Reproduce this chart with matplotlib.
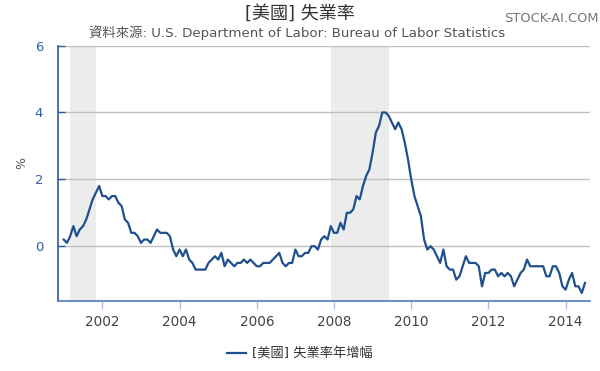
# -*- coding: utf-8 -*-
# I M P O R T ##########################################################################################################
import matplotlib
matplotlib.use('Agg')
import matplotlib.pyplot as plt


# D E C L A R A T I O N S ##############################################################################################
plt.rcParams['font.family'] = ['DejaVu Sans', 'Noto Sans CJK TC']

START_YEAR = 2001

# year-over-year change of the unemployment rate (percentage points), monthly from Jan 2001
yoy_2001 = [0.2, 0.1, 0.3, 0.6, 0.3, 0.5, 0.6, 0.8, 1.1, 1.4, 1.6, 1.8]
yoy_2002 = [1.5, 1.5, 1.4, 1.5, 1.5, 1.3, 1.2, 0.8, 0.7, 0.4, 0.4, 0.3]
yoy_2003 = [0.1, 0.2, 0.2, 0.1, 0.3, 0.5, 0.4, 0.4, 0.4, 0.3, -0.1, -0.3]
yoy_2004 = [-0.1, -0.3, -0.1, -0.4, -0.5, -0.7, -0.7, -0.7, -0.7, -0.5, -0.4, -0.3]
yoy_2005 = [-0.4, -0.2, -0.6, -0.4, -0.5, -0.6, -0.5, -0.5, -0.4, -0.5, -0.4, -0.5]
yoy_2006 = [-0.6, -0.6, -0.5, -0.5, -0.5, -0.4, -0.3, -0.2, -0.5, -0.6, -0.5, -0.5]
yoy_2007 = [-0.1, -0.3, -0.3, -0.2, -0.2, 0.0, 0.0, -0.1, 0.2, 0.3, 0.2, 0.6]
yoy_2008 = [0.4, 0.4, 0.7, 0.5, 1.0, 1.0, 1.1, 1.5, 1.4, 1.8, 2.1, 2.3]
yoy_2009 = [2.8, 3.4, 3.6, 4.0, 4.0, 3.9, 3.7, 3.5, 3.7, 3.5, 3.1, 2.6]
yoy_2010 = [2.0, 1.5, 1.2, 0.9, 0.2, -0.1, 0.0, -0.1, -0.3, -0.5, -0.1, -0.6]
yoy_2011 = [-0.7, -0.7, -1.0, -0.9, -0.6, -0.3, -0.5, -0.5, -0.5, -0.6, -1.2, -0.8]
yoy_2012 = [-0.8, -0.7, -0.7, -0.9, -0.8, -0.9, -0.8, -0.9, -1.2, -1.0, -0.8, -0.7]
yoy_2013 = [-0.4, -0.6, -0.6, -0.6, -0.6, -0.6, -0.9, -0.9, -0.6, -0.6, -0.8, -1.2]
yoy_2014 = [-1.3, -1.0, -0.8, -1.2, -1.2, -1.4, -1.1]

# recessions (decimal years)
recessions = [(2001 + 2/12, 2001 + 10/12), (2007 + 11/12, 2009 + 5/12)]

x_ticks = [2002, 2004, 2006, 2008, 2010, 2012, 2014]
y_ticks = [0, 2, 4, 6]

TITLE    = '[美國] 失業率'
SUBTITLE = '資料來源: U.S. Department of Labor: Bureau of Labor Statistics'
LEGEND   = '[美國] 失業率年增幅'
BRAND    = 'STOCK-AI.COM'

LINE_COLOR = '#1f4f8f'
AXIS_COLOR = '#2c5aa0'


#---------------------------------------------------------------------------------------------------------------------
# @brief Build the monthly series as decimal years.
#---------------------------------------------------------------------------------------------------------------------
def build_series():
  values = (yoy_2001 + yoy_2002 + yoy_2003 + yoy_2004 + yoy_2005 + yoy_2006 + yoy_2007 +
            yoy_2008 + yoy_2009 + yoy_2010 + yoy_2011 + yoy_2012 + yoy_2013 + yoy_2014)
  dates = [START_YEAR + i/12 for i in range(len(values))]
  return dates, values


#---------------------------------------------------------------------------------------------------------------------
# @brief Draw the chart.
#---------------------------------------------------------------------------------------------------------------------
def draw_chart(dates, values):
  fig = plt.figure(figsize=(6.0, 3.71), dpi=100)
  ax = fig.add_axes([0.0972, 0.1895, 0.8861, 0.6875])

  for (start, end) in recessions:
    ax.axvspan(start, end, color='#ececec', lw=0, zorder=0)

  for y in y_ticks:
    ax.axhline(y, color='#c0c0c0', lw=1.0, zorder=1)

  ax.plot(dates, values, color=LINE_COLOR, lw=1.6, label=LEGEND, zorder=3)

  ax.set_xlim(2000.86, 2014.63)
  ax.set_ylim(-1.63, 6.0)
  ax.set_xticks(x_ticks)
  ax.set_yticks(y_ticks)
  ax.set_xticklabels([str(t) for t in x_ticks])

  for side in ['top', 'right']:
    ax.spines[side].set_visible(False)
  ax.spines['left'].set_color(AXIS_COLOR)
  ax.spines['left'].set_linewidth(1.2)
  ax.spines['bottom'].set_color('#4f7cbf')
  ax.spines['bottom'].set_linewidth(1.2)

  ax.tick_params(axis='x', direction='out', length=6, width=1, color='#a8bfe0',
                 labelcolor='#444444', labelsize=9.8, pad=4)
  ax.tick_params(axis='y', direction='in', length=5, width=1, color=AXIS_COLOR,
                 labelcolor='#2f5fa8', labelsize=9.5, pad=14)
  for lbl in ax.get_yticklabels():
    lbl.set_horizontalalignment('center')

  ax.set_ylabel('%', color='#555555', fontsize=9, labelpad=6)
  ax.yaxis.set_label_coords(-0.056, 0.54)

  fig.text(0.5, 1 - 14/371, TITLE, ha='center', va='center', fontsize=13, color='#333333')
  fig.text(0.495, 1 - 33/371, SUBTITLE, ha='center', va='center', fontsize=9.6, color='#555555')
  fig.text(0.997, 1 - 19/371, BRAND, ha='right', va='center', fontsize=9.4, color='#777777')

  fig.legend(loc='center', bbox_to_anchor=(0.5, 1 - 354/371), frameon=False, fontsize=9.5,
             handlelength=1.4, handletextpad=0.5, labelcolor='#333333')

  return fig


#---------------------------------------------------------------------------------------------------------------------
# @brief Main function.
#---------------------------------------------------------------------------------------------------------------------
def main():
  dates, values = build_series()
  fig = draw_chart(dates, values)
  fig.savefig('out.png', dpi=100)


#---------------------------------------------------------------------------------------------------------------------
if __name__ == "__main__":
  main()
